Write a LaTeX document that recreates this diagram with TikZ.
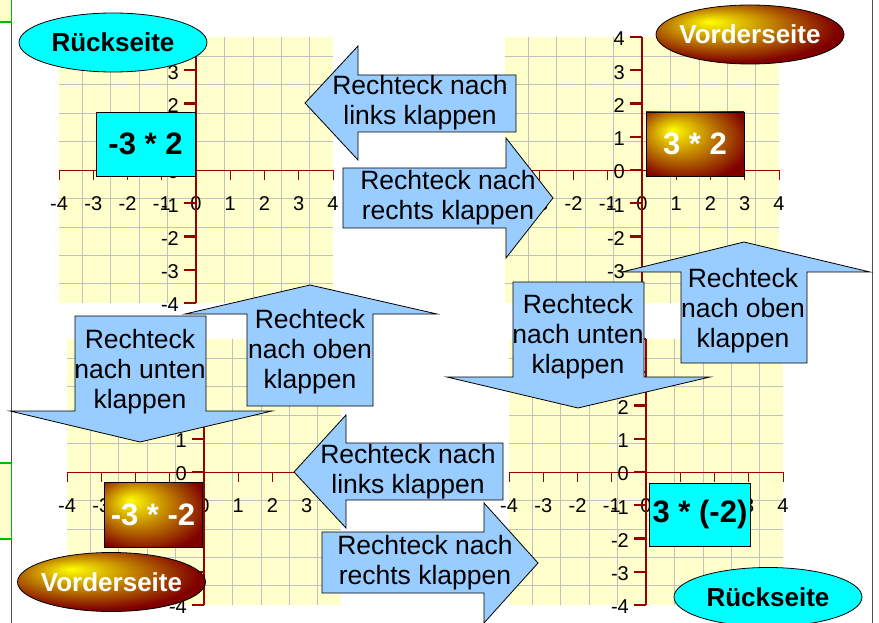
\documentclass[tikz,border=0pt]{standalone}
\usepackage{fontspec}
\setmainfont{Liberation Sans}
\usetikzlibrary{shapes.geometric}
\definecolor{darkred}{HTML}{800000}
\definecolor{axisred}{HTML}{990000}
\definecolor{gridfill}{HTML}{FFFFCC}
\definecolor{gridgray}{HTML}{C0C0C0}
\definecolor{arrowblue}{HTML}{99CCFF}
\definecolor{aqua}{HTML}{00FFFF}
\definecolor{goldyellow}{HTML}{FFFF00}
\definecolor{framegreen}{HTML}{00BB00}
\definecolor{framegray}{HTML}{505050}
\pgfdeclareradialshading{goldrect}{\pgfpoint{-12bp}{11bp}}{color(0bp)=(goldyellow); color(33bp)=(darkred); color(50bp)=(darkred)}
\pgfdeclareradialshading{goldell}{\pgfpoint{-11bp}{11bp}}{color(0bp)=(goldyellow); color(28bp)=(darkred); color(50bp)=(darkred)}
\tikzset{
  axlab/.style={font=\fontsize{20}{20}\selectfont, inner sep=0pt, text=black},
  arrowshape/.style={fill=arrowblue, draw=black, line width=0.8pt, line join=miter},
  arrowtext/.style={font=\fontsize{26.5}{30}\selectfont, align=center, inner sep=0pt},
  cyanbox/.style={rectangle, fill=aqua, draw=black, line width=0.8pt, font=\bfseries\fontsize{31}{31}\selectfont, text=black},
  goldbox/.style={rectangle, shade, shading=goldrect, draw=black, line width=0.8pt, font=\bfseries\fontsize{31}{31}\selectfont, text=white},
  oval/.style={ellipse, draw=black, line width=0.8pt, inner sep=0pt, minimum width=188pt, minimum height=59pt},
  cyanoval/.style={oval, fill=aqua},
  goldoval/.style={oval, shade, shading=goldell},
  ovaltext/.style={font=\bfseries\fontsize{26}{26}\selectfont, inner sep=0pt},
  greenbox/.style={fill=gridfill, draw=framegreen, line width=1.6pt},
}
\newcommand\quadgrid[2]{%
\begin{scope}[shift={(#1,#2)},x=34.25pt,y=33.25pt]
  \fill[gridfill] (-4,-4) rectangle (4,4);
  \draw[gridgray,line width=0.8pt] (-4,-4) grid (4,4);
  \draw[axisred,line width=0.9pt] (-4,0) -- (4,0);
  \foreach \i in {-4,...,4}{
    \draw[axisred,line width=0.9pt] (\i,0) -- ++(0,-10pt);
    \node[axlab] at (\i,-1) {\i};
    \node[axlab,anchor=east] at ([xshift=-17pt,yshift=-2pt]0,\i) {\i};
  }
  \draw[axisred,line width=2.2pt] (0,-4) -- (0,4);
  \foreach \i in {-4,...,4} \draw[axisred,line width=2.2pt] (0,\i) -- ++(-12pt,0);
\end{scope}}
\begin{document}
\begin{tikzpicture}[x=1pt,y=-1pt]
\clip (0,0) rectangle (879,623);
\fill[white] (0,0) rectangle (879,623);
% frame pieces
\draw[framegray,line width=0.9pt] (11.5,0) -- (11.5,623);
\draw[framegray,line width=0.9pt] (872,0) -- (872,623);
\draw[greenbox] (-2,-2) rectangle (11.5,22);
\draw[greenbox] (-2,463) rectangle (11.5,539);
% grids
\quadgrid{196}{170}
\quadgrid{642}{170}
\quadgrid{204}{472}
\quadgrid{646}{472}
% rectangles
\node[cyanbox, minimum width=99pt, minimum height=64pt] (r1) at (145.5,144) {-3 * 2};
\node[goldbox, minimum width=98pt, minimum height=64pt] (r2) at (695,144) {3 * 2};
\node[goldbox, minimum width=98pt, minimum height=65pt] (r3) at (153,514.5) {-3 * -2};
\node[cyanbox, minimum width=100pt, minimum height=63pt] (r4) at (700,514.5) {3 * (-2)};
% ovals
\node[cyanoval] (e1) at (113,42.5) {};
\node[ovaltext, text=black] (e1t) at (e1.center) {Rückseite};
\node[goldoval] (e2) at (750,34.5) {};
\node[ovaltext, text=white] (e2t) at (e2.center) {Vorderseite};
\node[goldoval] (e3) at (111.5,582) {};
\node[ovaltext, text=white] (e3t) at (e3.center) {Vorderseite};
\node[cyanoval] (e4) at (768,597) {};
\node[ovaltext, text=black] (e4t) at (e4.center) {Rückseite};
% arrows
\draw[arrowshape] (305,103) -- (358,46) -- (358,75) -- (516,75) -- (516,132) -- (358,132) -- (358,160) -- cycle;
\node[arrowtext] (t1) at (420,103) {Rechteck nach\\links klappen};
\draw[arrowshape] (553,198) -- (506,138) -- (506,168) -- (343,168) -- (343,228) -- (506,228) -- (506,258) -- cycle;
\node[arrowtext] (t2) at (448,198) {Rechteck nach\\rechts klappen};
\draw[arrowshape] (310,285) -- (437,314) -- (373,314) -- (373,406) -- (247,406) -- (247,314) -- (185,314) -- cycle;
\node[arrowtext] (t3) at (310,352) {Rechteck\\nach oben\\klappen};
\draw[arrowshape] (140,442) -- (10,411) -- (75,411) -- (75,316) -- (206,316) -- (206,411) -- (272,411) -- cycle;
\node[arrowtext] (t4) at (140,372) {Rechteck\\nach unten\\klappen};
\draw[arrowshape] (744,242) -- (870,272) -- (807,272) -- (807,363) -- (681,363) -- (681,272) -- (622,272) -- cycle;
\node[arrowtext] (t5) at (743,311) {Rechteck\\nach oben\\klappen};
\draw[arrowshape] (578,408) -- (447,377) -- (513,377) -- (513,282) -- (644,282) -- (644,377) -- (710,377) -- cycle;
\node[arrowtext] (t6) at (578,337) {Rechteck\\nach unten\\klappen};
\draw[arrowshape] (294,472) -- (346,415) -- (346,443) -- (503,443) -- (503,500) -- (346,500) -- (346,528) -- cycle;
\node[arrowtext] (t7) at (408,472) {Rechteck nach\\links klappen};
\draw[arrowshape] (538,563) -- (484,503) -- (484,532) -- (322,532) -- (322,593) -- (484,593) -- (484,623) -- cycle;
\node[arrowtext] (t8) at (425,563) {Rechteck nach\\rechts klappen};
\end{tikzpicture}
\end{document}
